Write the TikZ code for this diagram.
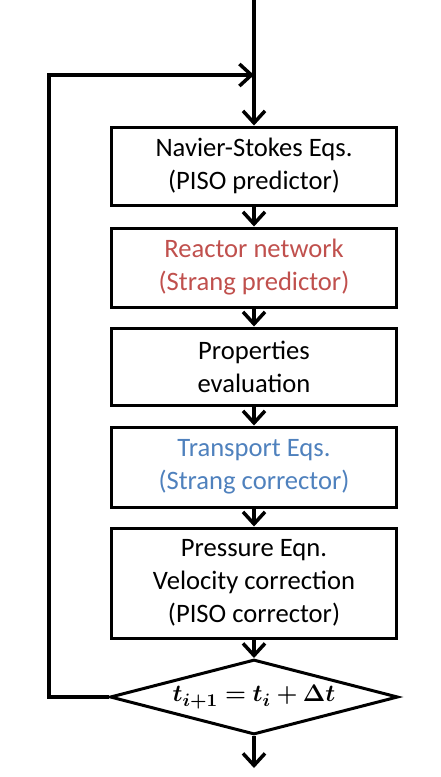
\documentclass[tikz,border=0pt]{standalone}
\usepackage{amsmath}
\usepackage{amssymb}
\usepackage{bm}
\usepackage{xcolor}
\usepackage{fontspec}
\setmainfont{Carlito}
\usetikzlibrary{arrows.meta,shapes.geometric}
\definecolor{stepred}{HTML}{C0504D}
\definecolor{stepblue}{HTML}{4F81BD}
\tikzset{
	stepbox/.style={draw,line width=1.5pt,minimum width=142.5pt,align=center,inner sep=0pt,
		font=\fontsize{13.3}{16.5}\selectfont},
	decbox/.style={draw,diamond,aspect=3.84,line width=1.5pt,minimum width=144pt,minimum height=37.5pt,inner sep=0pt},
	flow/.style={line width=1.75pt,-{Straight Barb[length=6pt,width=11pt,line width=1.75pt]}}
}

\begin{document}
\begin{tikzpicture}[x=0.5pt,y=-0.5pt]
			\useasboundingbox (0,0) rectangle (440,777);
			\node[stepbox,minimum height=39pt] (ns) at (254,166) {Navier-Stokes Eqs.\\(PISO predictor)};
			\node[stepbox,minimum height=39.5pt,text=stepred] (rn) at (254,267.5) {Reactor network\\(Strang predictor)};
			\node[stepbox,minimum height=38.5pt] (pe) at (254,366.5) {Properties\\evaluation};
			\node[stepbox,minimum height=40pt,text=stepblue] (te) at (254,467) {Transport Eqs.\\(Strang corrector)};
			\node[stepbox,minimum height=55pt] (pc) at (254,583) {Pressure Eqn.\\Velocity correction\\(PISO corrector)};
			\node[decbox] (dt) at (254,697) {\fontsize{12.5}{15}\selectfont$\bm{t_{i+1}=t_i+\Delta t}$};
			\coordinate (in) at (254,0);
			\coordinate (join) at (254,75);
			\coordinate (out) at (254,768);
			\coordinate (loopb) at (49,697);
			\coordinate (loopt) at (49,75);
			\draw[flow] (in) -- (ns.north);
			\draw[flow] (ns) -- (rn);
			\draw[flow] (rn) -- (pe);
			\draw[flow] (pe) -- (te);
			\draw[flow] (te) -- (pc);
			\draw[flow] (pc) -- (dt);
			\draw[flow] (dt) -- (out);
			\draw[flow] (dt.west) -- (loopb) -- (loopt) -- (join);
		\end{tikzpicture}
\end{document}
